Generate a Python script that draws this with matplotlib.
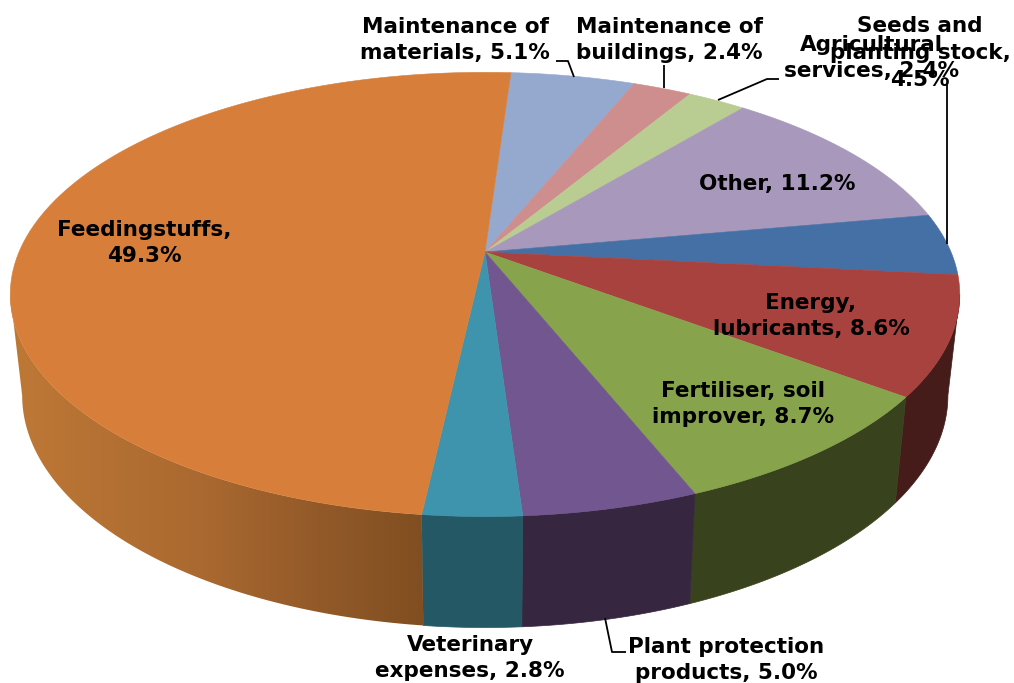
import numpy as np
import matplotlib
matplotlib.use("Agg")
import matplotlib.pyplot as plt
from matplotlib.patches import Polygon

# clockwise from the top of the pie
names = ["Maintenance of materials", "Maintenance of buildings", "Agricultural services",
         "Other", "Seeds and planting stock", "Energy, lubricants",
         "Fertiliser, soil improver", "Plant protection products",
         "Veterinary expenses", "Feedingstuffs"]
values = [5.1, 2.4, 2.4, 11.2, 4.5, 8.6, 8.7, 5.0, 2.8, 49.3]
top_colors = ["#95A9CF", "#CE8E8D", "#B9CC92", "#A898BC", "#4570A6",
              "#A8423F", "#87A44D", "#72568F", "#3F94AD", "#D77F3A"]
wall_colors = ["#5A6A85", "#7E5453", "#71805A", "#655B72", "#2A4565",
               "#451C1A", "#38421D", "#37263F", "#255865", None]

# pie geometry in pixels (perspective disc)
CX, CY = 485, 252
A, B, C = 466, 214, 0.191
EX, EY = 486, 294
START = 3.8


def disc(t):
    t = np.radians(t)
    d = 1 + C * np.cos(t)
    return CX + A * np.sin(t) / d, CY - B * np.cos(t) / d


def ring(t):
    # bottom edge of the wall
    x, y = disc(t)
    return EX + 0.975 * (x - EX), EY + 101 + 1.045 * (y - EY)


def wall_shape(t1, t2):
    ts = np.linspace(t1, t2, 100)
    x1, y1 = disc(ts)
    x2, y2 = ring(ts[::-1])
    return list(zip(x1, y1)) + list(zip(x2, y2))


fig = plt.figure(figsize=(10.14, 6.83), dpi=100)
ax = fig.add_axes([0, 0, 1, 1])
ax.set_xlim(0, 1014)
ax.set_ylim(683, 0)
ax.axis("off")

edges = START + np.cumsum([0] + values) * 360 / sum(values)

# where the wall silhouette leaves the disc, left and right
scan = np.arange(0, 360, 0.25)
t_right = scan[np.argmax(disc(scan)[0])]
t_left = scan[np.argmin(disc(scan)[0])]

# visible walls only (energy to veterinary), the disc hides the rest
for i in range(5, 9):
    t1 = max(edges[i], t_right)
    ax.add_patch(Polygon(wall_shape(t1, edges[i + 1]), closed=True,
                         fc=wall_colors[i], ec=wall_colors[i], lw=0.5))

# Feedingstuffs wall has a left to right gradient
gx = np.array([15, 200, 300, 425])
gr = np.array([190, 170, 150, 128])
gg = np.array([120, 105, 92, 78])
gb = np.array([54, 48, 42, 33])
xs = np.arange(0, 500)
grad = np.stack([np.interp(xs, gx, gr), np.interp(xs, gx, gg), np.interp(xs, gx, gb)], axis=1) / 255
clip = Polygon(wall_shape(edges[9], t_left), closed=True, transform=ax.transData)
im = ax.imshow(grad[np.newaxis, :, :], extent=[0, 500, 683, 0], aspect="auto", zorder=1)
im.set_clip_path(clip)
ax.set_xlim(0, 1014)
ax.set_ylim(683, 0)

# top of the pie
for i in range(len(values)):
    ts = np.linspace(edges[i], edges[i + 1], 120)
    px, py = disc(ts)
    pts = [(CX, CY)] + list(zip(px, py))
    ax.add_patch(Polygon(pts, closed=True, fc=top_colors[i], ec=top_colors[i], lw=0.4, zorder=2))

# leader lines
leaders = [([556, 568, 574], [61, 61, 77]),
           ([664, 664], [65, 88]),
           ([779, 767, 718], [79, 79, 100]),
           ([947, 947], [85, 244]),
           ([605, 612, 626], [618, 652, 652])]
for lx, ly in leaders:
    ax.plot(lx, ly, color="black", lw=1.3, solid_capstyle="butt", zorder=3)

labels = [("Maintenance of\nmaterials, 5.1%", 455, 40),
          ("Maintenance of\nbuildings, 2.4%", 669, 40),
          ("Agricultural\nservices, 2.4%", 871, 58),
          ("Seeds and\nplanting stock,\n4.5%", 920, 53),
          ("Feedingstuffs,\n49.3%", 144, 243),
          ("Other, 11.2%", 777, 184),
          ("Energy,\nlubricants, 8.6%", 811, 316),
          ("Fertiliser, soil\nimprover, 8.7%", 743, 404),
          ("Veterinary\nexpenses, 2.8%", 470, 658),
          ("Plant protection\nproducts, 5.0%", 726, 660)]
for txt, x, y in labels:
    ax.text(x, y, txt, ha="center", va="center", fontsize=15.5, fontweight="bold",
            color="black", family="DejaVu Sans", linespacing=1.42, zorder=4)

fig.savefig("out.png", dpi=100, facecolor="white")
